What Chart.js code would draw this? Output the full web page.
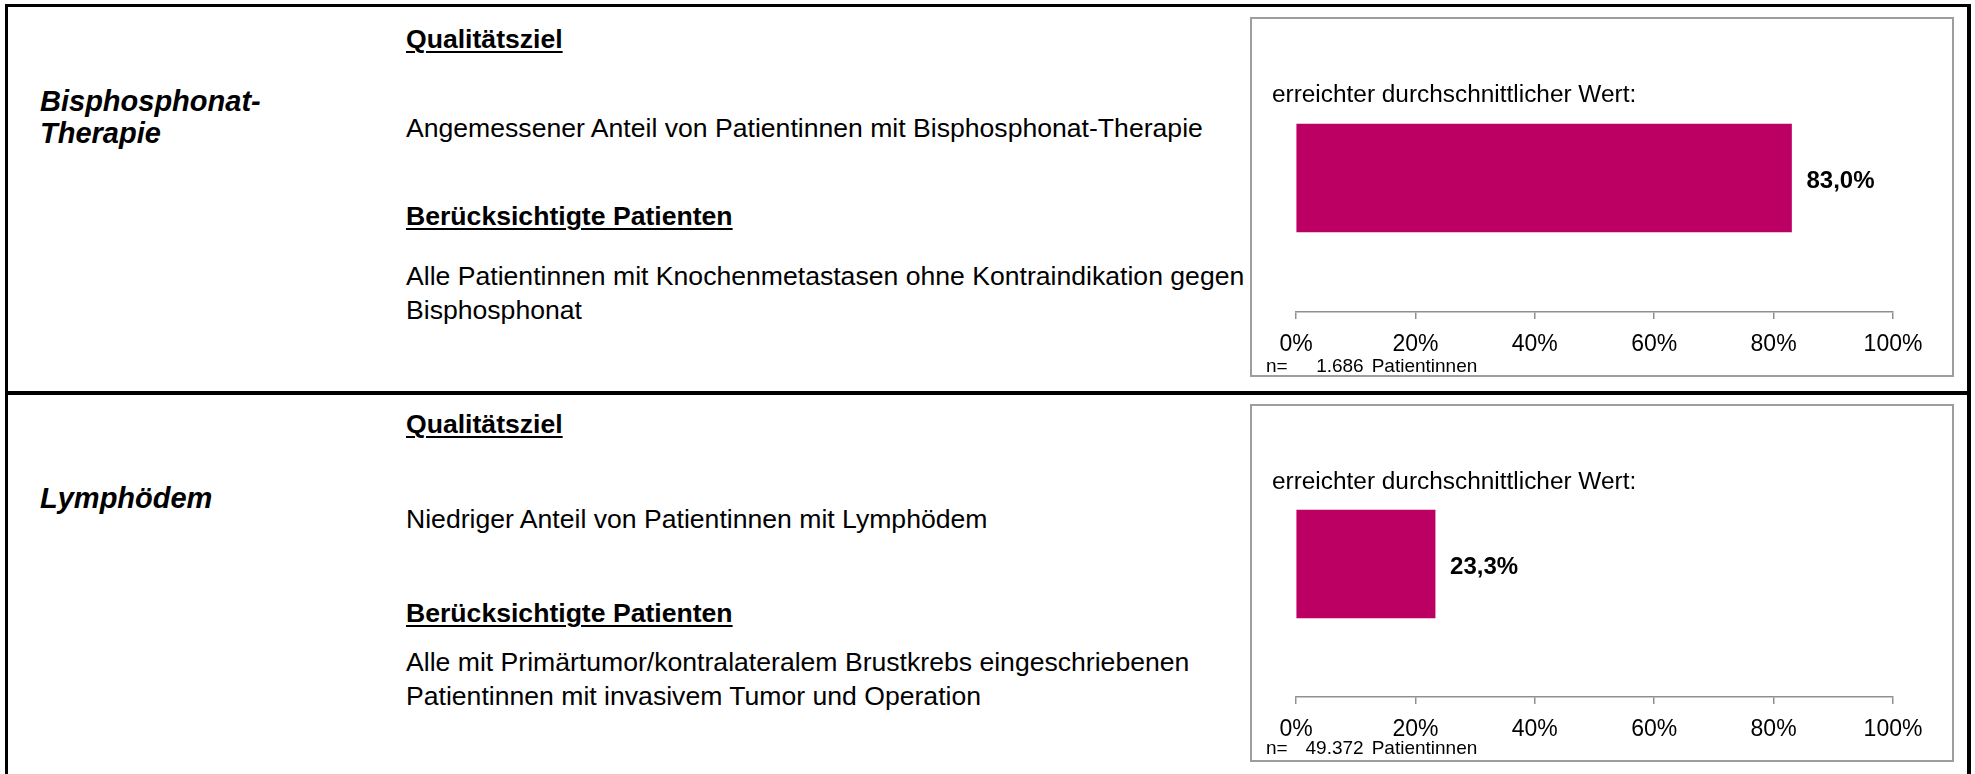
<!DOCTYPE html>
<html lang="de">
<head>
<meta charset="utf-8">
<title>Qualitätsindikatoren</title>
<script src="https://cdn.jsdelivr.net/npm/chart.js@4.4.0/dist/chart.umd.min.js"></script>
<style>
  body { margin: 0; width: 1975px; height: 774px; overflow: hidden; background: #fff;
         font-family: "Liberation Sans", Arial, sans-serif; color: #000; position: relative; }
  .frame { position: absolute; left: 5px; top: 4px; width: 1959px; height: 820px;
           border: 3px solid #000; border-right-width: 4px; }
  .sep { position: absolute; left: 5px; top: 391px; width: 1966px; height: 4px; background: #000; }
  .t { position: absolute; white-space: nowrap; }
  .title { left: 40px; font-size: 29px; font-weight: bold; font-style: italic; line-height: 32px; }
  .head { left: 406px; font-size: 26.6px; font-weight: bold; text-decoration: underline;
          text-decoration-thickness: 2px; text-underline-offset: 3px; line-height: 34px; }
  .body { left: 406px; font-size: 26.6px; line-height: 34px; }
  .box { position: absolute; left: 1250px; width: 700px; border: 2px solid #9d9d9d; }
  .box canvas { position: absolute; left: 0; top: 0; }
  .cap { position: absolute; left: 20px; top: 61px; font-size: 24.4px; line-height: 28px; white-space: nowrap; }
  .n { position: absolute; left: 14px; font-size: 19px; line-height: 22px; white-space: nowrap; }
  .n .num { display: inline-block; width: 76px; text-align: right; }
  .n .unit { margin-left: 8px; }
</style>
</head>
<body>
<div class="frame"></div>
<div class="sep"></div>

<!-- Zeile 1 -->
<div class="t title" style="top:85px">Bisphosphonat-<br>Therapie</div>
<div class="t head" style="top:22px">Qualitätsziel</div>
<div class="t body" style="top:111px">Angemessener Anteil von Patientinnen mit Bisphosphonat-Therapie</div>
<div class="t head" style="top:199px">Berücksichtigte Patienten</div>
<div class="t body" style="top:259px">Alle Patientinnen mit Knochenmetastasen ohne Kontraindikation gegen<br>Bisphosphonat</div>

<div class="box" style="top:17px; height:356px">
  <canvas id="chart0" width="700" height="356"></canvas>
  <div class="cap">erreichter durchschnittlicher Wert:</div>
  <div class="n" style="top:336px">n=<span class="num" id="n0"></span><span class="unit">Patientinnen</span></div>
</div>

<!-- Zeile 2 -->
<div class="t title" style="top:482px">Lymphödem</div>
<div class="t head" style="top:407px">Qualitätsziel</div>
<div class="t body" style="top:502px">Niedriger Anteil von Patientinnen mit Lymphödem</div>
<div class="t head" style="top:596px">Berücksichtigte Patienten</div>
<div class="t body" style="top:645px">Alle mit Primärtumor/kontralateralem Brustkrebs eingeschriebenen<br>Patientinnen mit invasivem Tumor und Operation</div>

<div class="box" style="top:404px; height:354px">
  <canvas id="chart1" width="700" height="354"></canvas>
  <div class="cap">erreichter durchschnittlicher Wert:</div>
  <div class="n" style="top:331px">n=<span class="num" id="n1"></span><span class="unit">Patientinnen</span></div>
</div>

<script>
// Werte je Indikator
const indicators = ['Bisphosphonat-Therapie', 'Lymphödem'];
const averageValues = [83.0, 23.3];
const patientCounts = ['1.686', '49.372'];
const percentTicks = [0, 20, 40, 60, 80, 100];

const barColor = '#bc0063';
const axisColor = '#8f8f8f';

Chart.defaults.font.family = '"Liberation Sans", Arial, sans-serif';
Chart.defaults.color = '#000';

// Prozentwert rechts neben dem Balken
const valueLabels = {
  id: 'valueLabels',
  afterDatasetsDraw(chart) {
    const ctx = chart.ctx;
    const data = chart.data.datasets[0].data;
    chart.getDatasetMeta(0).data.forEach((bar, i) => {
      ctx.save();
      ctx.font = 'bold 24px "Liberation Sans", Arial, sans-serif';
      ctx.fillStyle = '#000';
      ctx.textBaseline = 'middle';
      ctx.fillText(data[i].toFixed(1).replace('.', ',') + '%', bar.x + 15, bar.y + 3);
      ctx.restore();
    });
  }
};

indicators.forEach((name, i) => {
  document.getElementById('n' + i).textContent = patientCounts[i];

  new Chart(document.getElementById('chart' + i), {
    type: 'bar',
    data: {
      labels: [name],
      datasets: [{
        data: [averageValues[i]],
        backgroundColor: barColor,
        borderWidth: 0,
        barThickness: 108
      }]
    },
    plugins: [valueLabels],
    options: {
      indexAxis: 'y',
      responsive: false,
      animation: false,
      devicePixelRatio: 1,
      layout: { padding: { left: 44, right: 59, top: 25, bottom: 23 } },
      plugins: {
        legend: { display: false },
        tooltip: { enabled: false }
      },
      scales: {
        y: { display: false },
        x: {
          position: 'bottom',
          min: 0,
          max: 100,
          afterBuildTicks: scale => {
            scale.ticks = percentTicks.map(v => ({ value: v }));
          },
          afterFit: scale => { scale.height = 40; },
          grid: {
            drawOnChartArea: false,
            drawTicks: true,
            tickLength: 7,
            color: axisColor,
            lineWidth: 1.5
          },
          border: { display: true, color: axisColor, width: 1.5 },
          ticks: {
            autoSkip: false,
            maxRotation: 0,
            padding: 12,
            font: { size: 23 },
            callback: v => v + '%'
          }
        }
      }
    }
  });
});
</script>
</body>
</html>
